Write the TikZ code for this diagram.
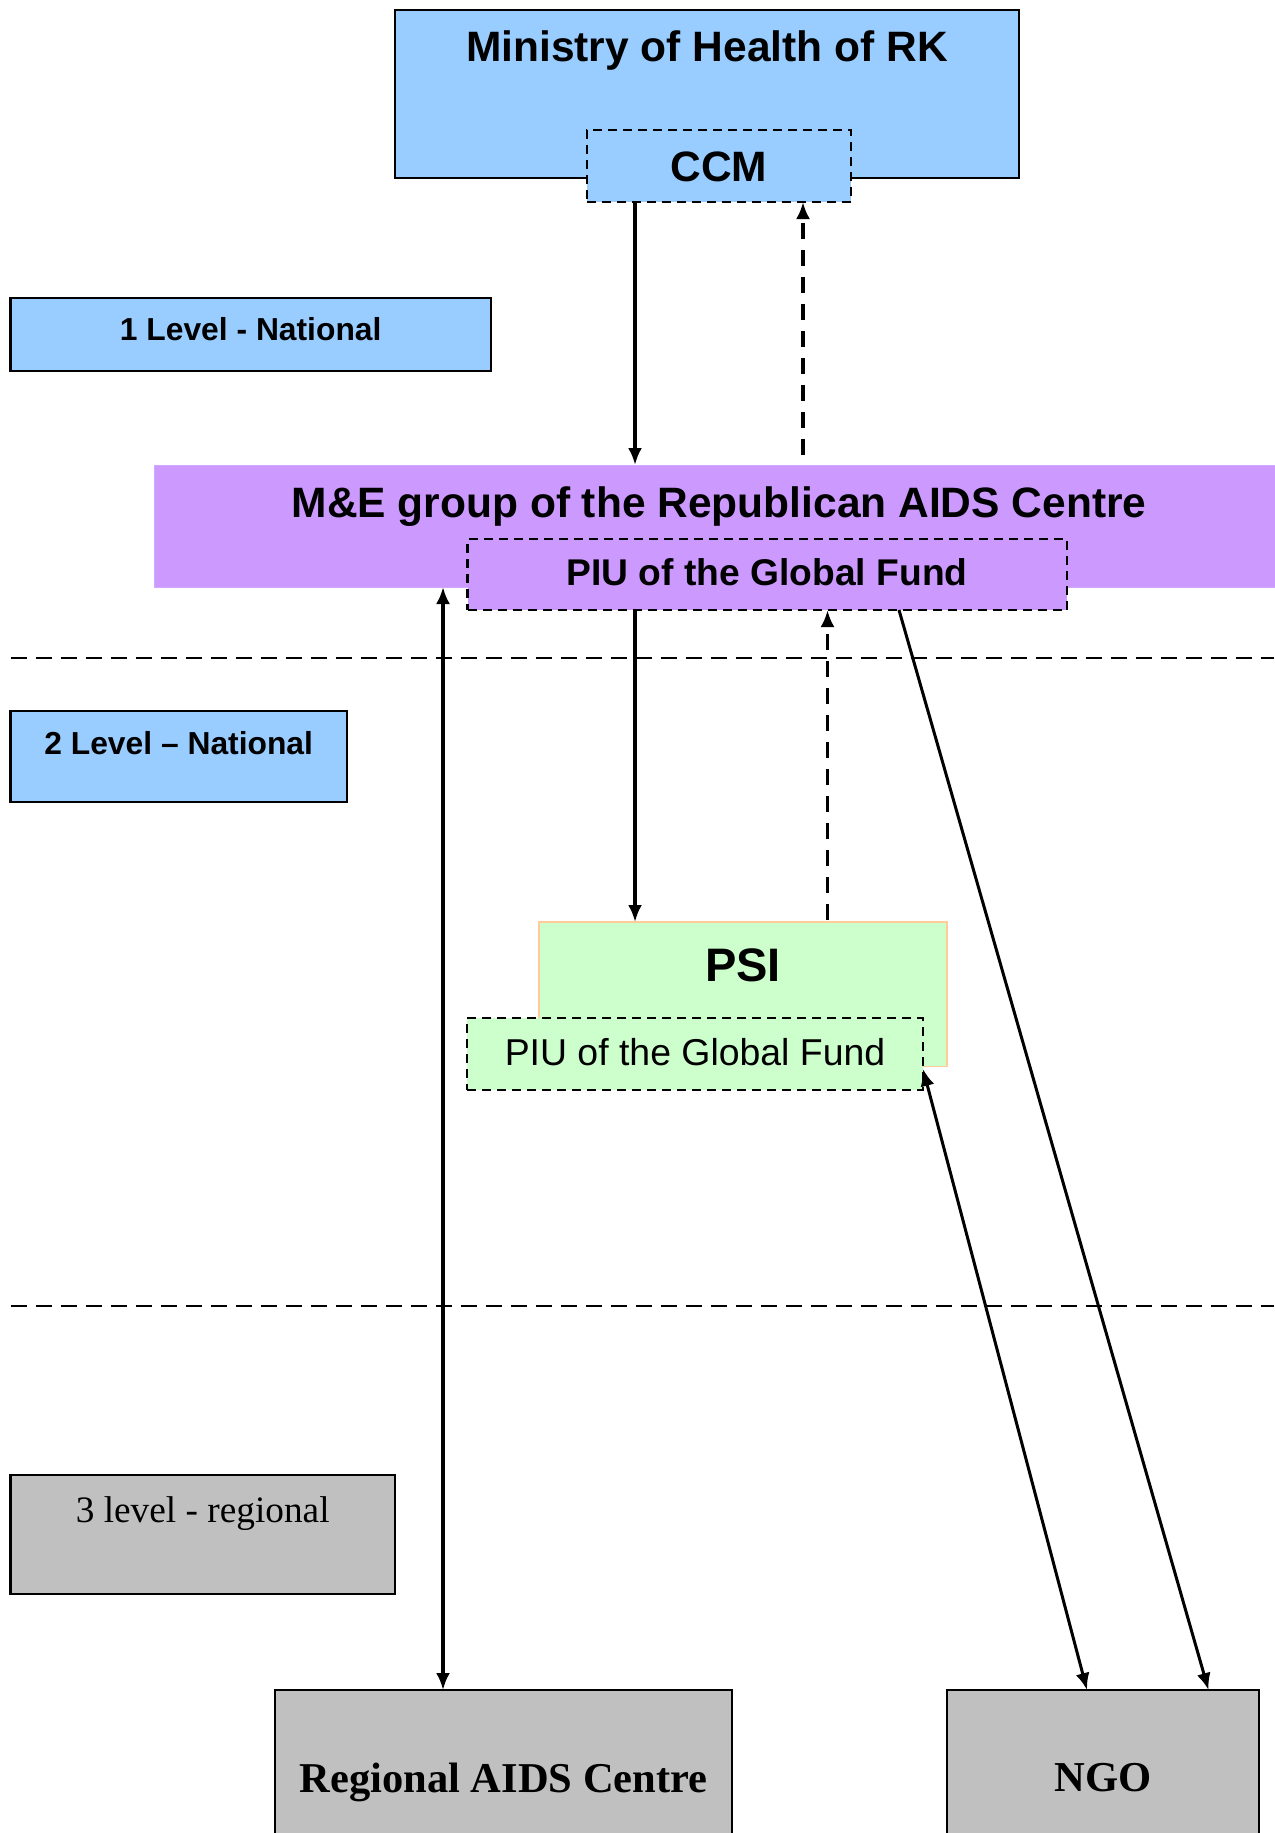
\documentclass[tikz,border=0pt]{standalone}
\usepackage{fontspec}
\setmainfont{Liberation Sans}
\newfontfamily\tnr{Liberation Serif}
\usetikzlibrary{arrows.meta}
\definecolor{lblue}{HTML}{99CCFF}
\definecolor{lpurple}{HTML}{CC99FF}
\definecolor{lgreen}{HTML}{CCFFCC}
\definecolor{lorange}{HTML}{FFCC99}
\definecolor{lgrey}{HTML}{C0C0C0}
\begin{document}
\begin{tikzpicture}[x=1pt,y=-1pt,
  box/.style={rectangle, anchor=north west, inner sep=0pt, outer sep=0pt},
  bluebox/.style={box, fill=lblue, draw=black, line width=2.4pt},
  greybox/.style={box, fill=lgrey, draw=black, line width=2.6pt},
  dashbox/.style={box, draw=black, line width=2.3pt, dash pattern=on 9pt off 6pt},
  bigbold/.style={font=\bfseries\fontsize{42.5}{50}\selectfont},
  midbold/.style={font=\bfseries\fontsize{37.2}{44}\selectfont},
  lvlbold/.style={font=\bfseries\fontsize{31.8}{38}\selectfont},
  conn/.style={line width=3.3pt, -{Latex[length=17pt,width=14pt]}},
  dbl/.style={line width=3.3pt, {Latex[length=17pt,width=14pt]}-{Latex[length=17pt,width=14pt]}},
  dconn/.style={conn, line width=3.6pt, dash pattern=on 16pt off 11pt},
  sep/.style={line width=2.2pt, dash pattern=on 16pt off 9pt}
]
\useasboundingbox (0,0) rectangle (1274,1833);
\fill[white] (0,0) rectangle (1274,1833);

% Level 1
\node[bluebox, minimum width=624pt, minimum height=168pt] (moh) at (395,10) {};
\node[bigbold] (mohtxt) at (707,51) {Ministry of Health of RK};
\node[bluebox, dashbox, minimum width=264pt, minimum height=72pt] (ccm) at (587,130) {};
\node[bigbold] (ccmtxt) at (719,167) {CCM};
\node[bluebox, minimum width=480.5pt, minimum height=73pt] (lvl1) at (10.5,298) {};
\node[lvlbold] (lvl1txt) at (250.7,329) {1 Level - National};

\node[box, fill=lpurple, draw=lpurple!85!white, line width=1pt, minimum width=1130pt, minimum height=122pt] (me) at (154,465) {};
\node[bigbold] (metxt) at (719,507) {M\&E group of the Republican AIDS Centre};
\node[box, fill=lpurple, dashbox, minimum width=599.5pt, minimum height=71pt] (piua) at (467.5,539) {};
\node[midbold] (piuatxt) at (767,572) {PIU of the Global Fund};

\coordinate (s1l) at (10.5,658);
\coordinate (s1r) at (1274,658);
\draw[sep] (s1l) -- (s1r);

% Level 2
\node[bluebox, minimum width=336.5pt, minimum height=91pt] (lvl2) at (10.5,711) {};
\node[lvlbold] (lvl2txt) at (178.7,743) {2 Level -- National};

\node[box, fill=lgreen, draw=lorange, line width=1.5pt, minimum width=408pt, minimum height=144.7pt] (psi) at (539,922) {};
\node[font=\bfseries\fontsize{47}{56}\selectfont] (psitxt) at (743,965) {PSI};
\node[box, fill=lgreen, dashbox, minimum width=456pt, minimum height=72pt] (piub) at (467,1018) {};
\node[font=\fontsize{37.4}{44}\selectfont] (piubtxt) at (695,1052) {PIU of the Global Fund};

\coordinate (s2l) at (10.5,1306);
\coordinate (s2r) at (1274,1306);
\draw[sep] (s2l) -- (s2r);

% Level 3
\node[greybox, minimum width=384.5pt, minimum height=119pt] (lvl3) at (10.5,1475) {};
\node[font=\tnr\fontsize{37.3}{44}\selectfont] (lvl3txt) at (202.7,1514) {3 level - regional};
\node[greybox, minimum width=457pt, minimum height=170pt] (reg) at (275,1690) {};
\node[font=\tnr\bfseries\fontsize{42.5}{50}\selectfont] (regtxt) at (503.5,1782) {Regional AIDS Centre};
\node[greybox, minimum width=312pt, minimum height=170pt] (ngo) at (947,1690) {};
\node[font=\tnr\bfseries\fontsize{42.6}{50}\selectfont] (ngotxt) at (1103,1778) {NGO};

% connectors
\draw[conn] ([xshift=48pt]ccm.south west) -- ([xshift=481pt]me.north west);
\draw[dconn] ([xshift=649pt,yshift=10pt]me.north west) -- ([xshift=216pt]ccm.south west);
\draw[conn] ([xshift=167.5pt]piua.south west) -- ([xshift=96pt]psi.north west);
\draw[dconn] ([xshift=288.5pt,yshift=2pt]psi.north west) -- ([xshift=360pt]piua.south west);
\draw[dbl] ([xshift=289pt]me.south west) -- ([xshift=168pt]reg.north west);
\draw[line width=3pt, -{Latex[length=17pt,width=14pt]}] ([xshift=431.5pt]piua.south west) -- ([xshift=261.5pt]ngo.north west);
\draw[dbl, line width=3pt] ([yshift=21pt]piub.south east) -- ([xshift=140pt]ngo.north west);
\end{tikzpicture}
\end{document}
